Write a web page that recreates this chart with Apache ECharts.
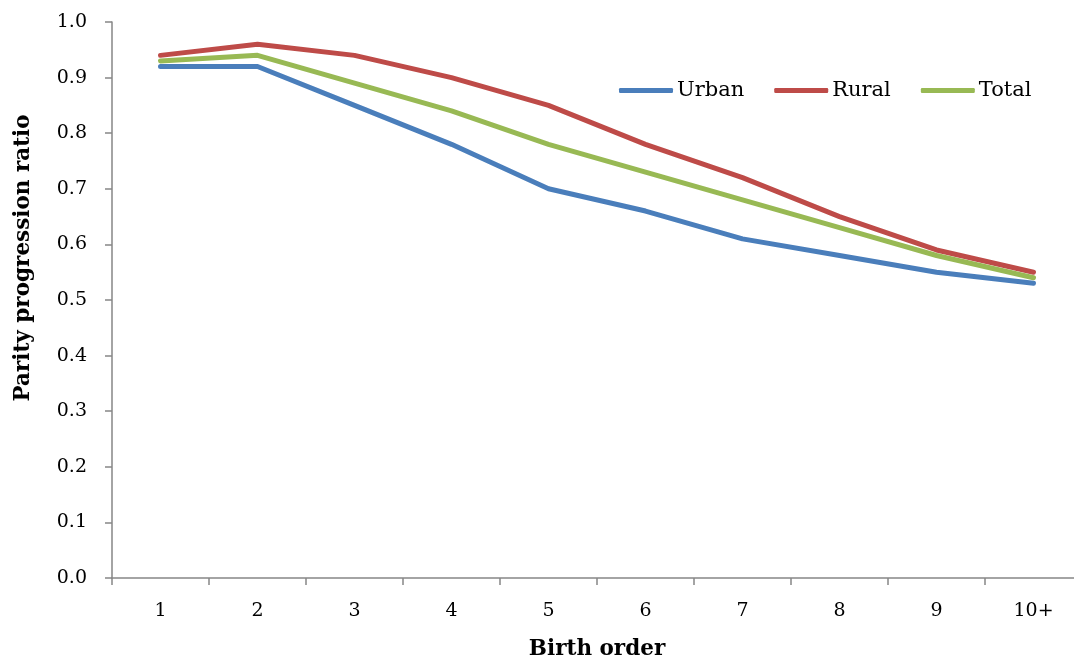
<!DOCTYPE html>
<html>
<head>
<meta charset="utf-8">
<script src="https://cdn.jsdelivr.net/npm/echarts@6/dist/echarts.min.js"></script>
<style>
  html, body { margin: 0; padding: 0; background: #fff; }
  #chart { width: 1074px; height: 662px; }
</style>
</head>
<body>
<div id="chart"></div>
<script>
// Parity progression ratios by birth order
const birthOrders = ['1', '2', '3', '4', '5', '6', '7', '8', '9', '10+'];
const urban = [0.92, 0.92, 0.85, 0.78, 0.70, 0.66, 0.61, 0.58, 0.55, 0.53];
const rural = [0.94, 0.96, 0.94, 0.90, 0.85, 0.78, 0.72, 0.65, 0.59, 0.55];
const total = [0.93, 0.94, 0.89, 0.84, 0.78, 0.73, 0.68, 0.63, 0.58, 0.54];

const FONT = '"DejaVu Serif", "Liberation Serif", serif';
const AXIS_GREY = '#868686';

function lineSeries(name, data, color) {
  return {
    name: name,
    type: 'line',
    data: data,
    symbol: 'none',
    showSymbol: false,
    smooth: false,
    lineStyle: { width: 5, color: color, cap: 'round', join: 'round' },
    itemStyle: { color: color }
  };
}

const chart = echarts.init(document.getElementById('chart'), null, { renderer: 'canvas' });
chart.setOption({
  animation: false,
  backgroundColor: '#ffffff',
  textStyle: { fontFamily: FONT, color: '#000' },
  grid: { left: 112, top: 22, width: 970, height: 556, containLabel: false, outerBoundsMode: 'none' },
  legend: {
    left: 614,
    top: 75,
    icon: 'roundRect',
    itemWidth: 54,
    itemHeight: 5,
    itemGap: 30,
    textStyle: { fontFamily: FONT, fontSize: 21, color: '#000', padding: [0, 0, 0, -1] },
    data: ['Urban', 'Rural', 'Total']
  },
  xAxis: {
    type: 'category',
    data: birthOrders,
    boundaryGap: true,
    name: 'Birth order',
    nameLocation: 'middle',
    nameGap: 60,
    nameTextStyle: { fontFamily: FONT, fontSize: 21.5, fontWeight: 'bold', color: '#000' },
    axisLine: { lineStyle: { color: AXIS_GREY, width: 1.5 } },
    axisTick: { show: true, length: 7, lineStyle: { color: AXIS_GREY, width: 1.5 } },
    axisLabel: { fontFamily: FONT, fontSize: 19, color: '#000', margin: 24 },
    splitLine: { show: false }
  },
  yAxis: {
    type: 'value',
    min: 0,
    max: 1,
    interval: 0.1,
    name: 'Parity progression ratio',
    nameLocation: 'middle',
    nameGap: 78,
    nameRotate: 90,
    nameTextStyle: {
      fontFamily: FONT, fontSize: 21.5, fontWeight: 'bold', color: '#000',
      padding: [0, 0, 0, 84]
    },
    axisLine: { show: true, lineStyle: { color: AXIS_GREY, width: 1.5 } },
    axisTick: { show: true, length: 7, lineStyle: { color: AXIS_GREY, width: 1.5 } },
    axisLabel: {
      fontFamily: FONT, fontSize: 19, color: '#000', margin: 25,
      formatter: function (v) { return v.toFixed(1); }
    },
    splitLine: { show: false }
  },
  series: [
    lineSeries('Urban', urban, '#4A7EBB'),
    lineSeries('Rural', rural, '#BE4B48'),
    lineSeries('Total', total, '#98B954')
  ]
});
</script>
</body>
</html>
